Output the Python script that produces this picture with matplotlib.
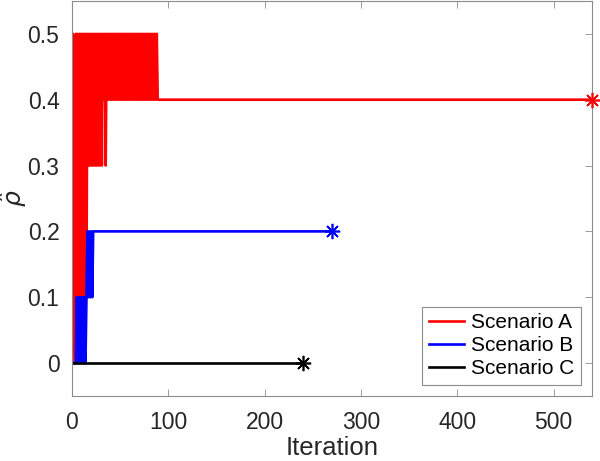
#!/usr/bin/env python3
# -*- coding: utf-8 -*-

# ----------------------- Imports -----------------------
import numpy as np
import matplotlib
matplotlib.use("Agg")
import matplotlib.pyplot as plt

plt.rcParams["font.family"] = ["Liberation Sans", "DejaVu Sans"]
plt.rcParams["mathtext.fontset"] = "dejavusans"

# ----------------------- Data -----------------------
# rho_hat per iteration during the early, oscillating phase (iteration = index)
rho_a_early = [0.1, 0.5, 0.1, 0.0, 0.5, 0.1, 0.5, 0.1, 0.5, 0.1,
               0.5, 0.1, 0.5, 0.1, 0.5, 0.1, 0.5, 0.3, 0.5, 0.3,
               0.5, 0.3, 0.5, 0.3, 0.5, 0.3, 0.5, 0.3, 0.5, 0.3,
               0.5, 0.3, 0.5, 0.4, 0.5, 0.3, 0.5, 0.4, 0.5, 0.4,
               0.5, 0.4, 0.5, 0.4, 0.5, 0.4, 0.5, 0.4, 0.5, 0.4,
               0.5, 0.4, 0.5, 0.4, 0.5, 0.4, 0.5, 0.4, 0.5, 0.4,
               0.5, 0.4, 0.5, 0.4, 0.5, 0.4, 0.5, 0.4, 0.5, 0.4,
               0.5, 0.4, 0.5, 0.4, 0.5, 0.4, 0.5, 0.4, 0.5, 0.4,
               0.5, 0.4, 0.5, 0.4, 0.5, 0.4, 0.5, 0.4, 0.5, 0.4]
rho_b_early = [0.0, 0.0, 0.0, 0.0, 0.0, 0.1, 0.0, 0.1, 0.0, 0.1,
               0.0, 0.1, 0.0, 0.1, 0.0, 0.1, 0.2, 0.1, 0.2, 0.1,
               0.2, 0.1, 0.2]
rho_c_early = [0.0]

# final iteration and settled value of each scenario
final_iter = {"A": 540, "B": 270, "C": 240}
final_rho = {"A": 0.4, "B": 0.2, "C": 0.0}

labels = ["Scenario A", "Scenario B", "Scenario C"]
colors = ["#ff0000", "#0000ff", "#000000"]
xticks = [0, 100, 200, 300, 400, 500]
yticks = [0, 0.1, 0.2, 0.3, 0.4, 0.5]

# ----------------------- Plot -----------------------
fig = plt.figure(figsize=(6.0, 4.61), dpi=100)
ax = fig.add_axes([0.12, 0.141, 0.867, 0.857])

series = [("A", rho_a_early), ("B", rho_b_early), ("C", rho_c_early)]
for (key, early), label, color in zip(series, labels, colors):
    it = list(range(len(early))) + [final_iter[key]]
    rho = list(early) + [final_rho[key]]
    ax.plot(it, rho, color=color, lw=1.9, label=label, zorder=2)
    ax.plot(final_iter[key], final_rho[key], linestyle="none", marker=(8, 2, 0),
            markersize=11, markeredgewidth=1.2, color=color, zorder=3, clip_on=False)

ax.set_xlim(0, 540)
ax.set_ylim(-0.05, 0.55)
ax.set_xticks(xticks)
ax.set_yticks(yticks)
ax.set_yticklabels(["0", "0.1", "0.2", "0.3", "0.4", "0.5"])

grey = "#262626"
for side in ax.spines.values():
    side.set_color("#8c8c8c")
    side.set_linewidth(0.8)
ax.tick_params(direction="in", length=5, width=0.6, color="#8c8c8c",
               labelcolor=grey, labelsize=16.5, top=True, right=True)
ax.tick_params(axis="x", pad=11)
ax.tick_params(axis="y", pad=9)

ax.set_xlabel("Iteration", fontsize=18.5, color=grey, labelpad=1)
ax.set_ylabel(r"$\hat{\rho}$", fontsize=18, color=grey)
ax.yaxis.set_label_coords(-0.083, 0.5)

leg = ax.legend(loc="lower right", fontsize=15, frameon=True, fancybox=False,
                framealpha=1, edgecolor="#8c8c8c", handlelength=1.7,
                handletextpad=0.35, borderpad=0.3, labelspacing=0.2,
                borderaxespad=0.55)
leg.get_frame().set_linewidth(0.8)

fig.savefig("out.png", dpi=100)
print("[OK] out.png written")
